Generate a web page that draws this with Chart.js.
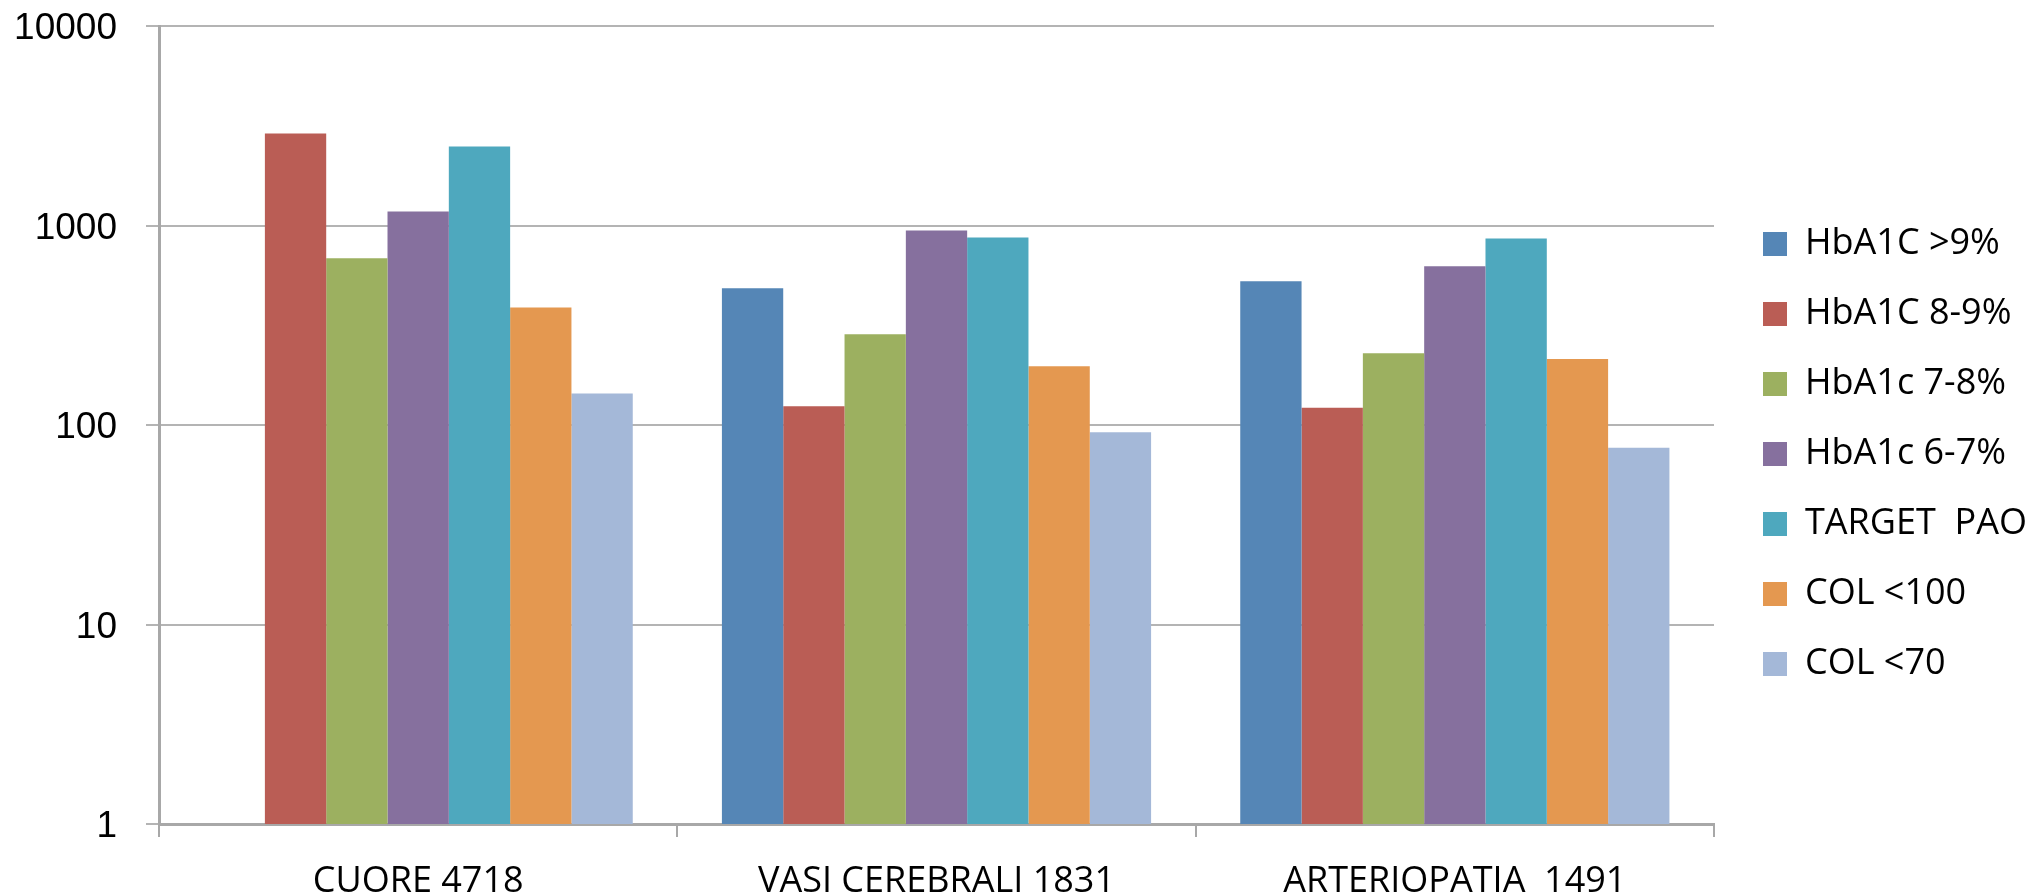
<!DOCTYPE html>
<html>
<head>
<meta charset="utf-8">
<script src="https://cdn.jsdelivr.net/npm/chart.js@4/dist/chart.umd.min.js"></script>
<style>
  html, body { margin: 0; padding: 0; background: #ffffff; overflow: hidden; }
  #wrap { width: 2038px; height: 896px; position: relative; }
</style>
</head>
<body>
<div id="wrap"><canvas id="c"></canvas></div>
<script>
// ---- data ----
const categories = ['CUORE 4718', 'VASI CEREBRALI 1831', 'ARTERIOPATIA  1491'];
const seriesLabels = ['HbA1C >9%', 'HbA1C 8-9%', 'HbA1c 7-8%', 'HbA1c 6-7%', 'TARGET  PAO', 'COL <100', 'COL <70'];
const hba1cOver9 = [null, 484, 525];
const hba1c8to9 = [2890, 124, 122];
const hba1c7to8 = [685, 285, 229];
const hba1c6to7 = [1175, 944, 624];
const targetPao = [2490, 871, 861];
const col100 = [388, 197, 214];
const col70 = [144, 92, 77];
const yTicks = [1, 10, 100, 1000, 10000];

const seriesValues = [hba1cOver9, hba1c8to9, hba1c7to8, hba1c6to7, targetPao, col100, col70];
const seriesColors = ['#5586B6', '#BA5D55', '#9CB060', '#86709E', '#4EA8BE', '#E49850', '#A4B8D8'];

const GRID = '#b4b4b4';
const AXIS = '#a8a8a8';

const legendPlacePlugin = {
  id: 'legendPlace',
  beforeLayout(chart) {
    const L = chart.legend;
    if (L && !L._wpatched) {
      const orig = L.fit.bind(L);
      L.fit = function () { orig(); this.width = 309; };
      L._wpatched = true;
    }
  },
  afterLayout(chart) {
    const L = chart.legend;
    if (L) { L.bottom = 882; }
  }
};

new Chart(document.getElementById('c'), {
  type: 'bar',
  data: {
    labels: categories,
    datasets: seriesValues.map((vals, i) => ({
      label: seriesLabels[i],
      data: vals,
      backgroundColor: seriesColors[i],
      borderWidth: 0,
      categoryPercentage: 0.828,
      barPercentage: 1.0
    }))
  },
  options: {
    responsive: true,
    maintainAspectRatio: false,
    animation: false,
    layout: { padding: { top: 26, bottom: 0, left: 0, right: 0 } },
    plugins: {
      tooltip: { enabled: false },
      legend: {
        position: 'right',
        align: 'center',
        labels: {
          boxWidth: 24,
          boxHeight: 24,
          padding: 34,
          color: '#000000',
          font: { family: '"Open Sans", "Liberation Sans", sans-serif', size: 36 }
        }
      }
    },
    scales: {
      x: {
        grid: {
          display: true,
          offset: true,
          drawOnChartArea: false,
          drawTicks: true,
          tickLength: 13,
          color: AXIS,
          lineWidth: 2
        },
        border: { display: true, color: AXIS, width: 3 },
        ticks: {
          color: '#000000',
          padding: 23,
          maxRotation: 0,
          autoSkip: false,
          font: { family: '"Open Sans", "Liberation Sans", sans-serif', size: 36 }
        },
        afterFit: s => { s.height = 72; s.paddingLeft = 0; s.paddingRight = 0; }
      },
      y: {
        type: 'logarithmic',
        min: 1,
        max: 10000,
        position: 'left',
        afterBuildTicks: s => { s.ticks = yTicks.map(v => ({ value: v })); },
        grid: {
          color: GRID,
          lineWidth: 2,
          drawTicks: true,
          tickLength: 13
        },
        border: { display: true, color: AXIS, width: 3 },
        ticks: {
          color: '#000000',
          padding: 29,
          labelOffset: 3,
          font: { family: '"Liberation Sans", Arial, sans-serif', size: 37 },
          callback: v => String(v)
        },
        afterFit: s => { s.width = 159; s.paddingTop = 0; s.paddingBottom = 0; }
      },
      y2: {
        type: 'linear',
        position: 'right',
        display: true,
        grid: { display: false, drawTicks: false },
        border: { display: false },
        ticks: { display: false },
        afterFit: s => { s.width = 15; s.paddingTop = 0; s.paddingBottom = 0; }
      }
    }
  },
  plugins: [legendPlacePlugin]
});
</script>
</body>
</html>
